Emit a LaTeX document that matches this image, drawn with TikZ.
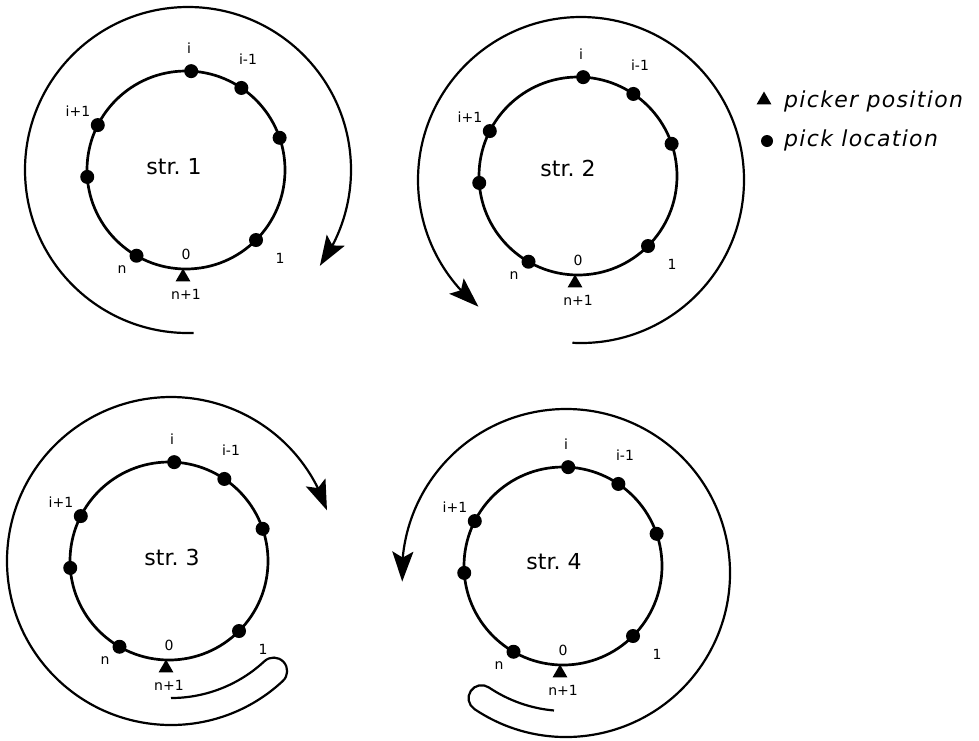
\documentclass[tikz,border=0pt]{standalone}
\usepackage{fontspec}
\setmainfont{DejaVu Sans}
\usetikzlibrary{arrows.meta,bending,shapes.geometric,calc}
\begin{document}
\begin{tikzpicture}[x=1pt,y=-1pt,
  ring/.style={line width=2.7pt},
  spiral/.style={line width=2.2pt,-{Stealth[length=30pt,width=21pt,inset=6pt]}},
  loc/.style={circle,fill,inner sep=0pt,minimum size=14pt},
  tri/.style={regular polygon,regular polygon sides=3,fill,inner sep=0pt,minimum size=17pt},
  lab/.style={font=\fontsize{14}{14}\selectfont,inner sep=0pt},
  title/.style={font=\fontsize{22}{22}\selectfont,inner sep=0pt},
  legend/.style={font=\fontsize{22}{22}\selectfont\itshape\addfontfeatures{LetterSpace=6},inner sep=0pt,anchor=west},
]
\useasboundingbox (0,0) rectangle (979,740);

\foreach \p/\cx/\cy/\tx/\ty in {1/186/170/174/167, 2/578/176/568/168, 3/169/561/172/557, 4/563/566/554/562} {
  \coordinate (c\p) at (\cx,\cy);
  \draw[ring] (c\p) circle[radius=99];
  \foreach \a [count=\k] in {-87,-56,-19,45,120,176,-153}
    \node[loc] (d\p-\k) at ($(c\p)+(\a:99)$) {};
  \node[tri] (t\p) at ($(c\p)+(-3,107)$) {};
  \node[title] (s\p) at (\tx,\ty) {str.\ \p};
  \node[lab] (li\p) at ($(c\p)+(3,-122)$) {i};
  \node[lab] (lim\p) at ($(c\p)+(62,-111)$) {i-1};
  \node[lab] (lip\p) at ($(c\p)+(-108,-59)$) {i+1};
  \node[lab] (lz\p) at ($(c\p)+(0,84)$) {0};
  \node[lab] (lo\p) at ($(c\p)+(94,88)$) {1};
  \node[lab] (ln\p) at ($(c\p)+(-64,100)$) {n};
  \node[lab] (lnp\p) at ($(c\p)+(0,124)$) {n+1};
}

% outer centres
\coordinate (o1) at (188,170);
\coordinate (o2) at (581,180);
\coordinate (o3) at (171,561);
\coordinate (o4) at (566,573);

% panel 1: clockwise
\draw[spiral] ($(o1)+(88:163)$) arc[start angle=88,end angle=396,radius=163];
% panel 2: counter-clockwise
\draw[spiral] ($(o2)+(-267:163)$) arc[start angle=-267,end angle=-591,radius=163];
% panel 3: hook then clockwise
\draw[spiral] ($(o3)+(90:137)$) arc[start angle=90,end angle=47,radius=137]
  arc[start angle=-133,end angle=47,radius=13.5]
  arc[start angle=47,end angle=342,radius=164];
% panel 4: hook then counter-clockwise
\draw[spiral] ($(o4)+(-265:138)$) arc[start angle=-265,end angle=-236,radius=138]
  arc[start angle=-56,end angle=-236,radius=13]
  arc[start angle=-236,end angle=-543,radius=164];

% legend
\node[tri] (legtri) at (764,100) {};
\node[loc,minimum size=12pt] (legdot) at (767,141) {};
\node[legend] (legt1) at (784,101) {picker position};
\node[legend] (legt2) at (784,140) {pick location};
\end{tikzpicture}
\end{document}
